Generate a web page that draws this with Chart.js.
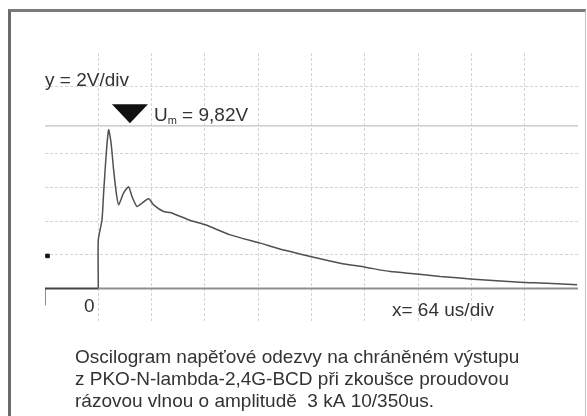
<!DOCTYPE html>
<html>
<head>
<meta charset="utf-8">
<script src="https://cdn.jsdelivr.net/npm/chart.js@4.4.1/dist/chart.umd.min.js"></script>
<style>
  html, body { margin: 0; padding: 0; background: #fff; }
  #wrap { position: relative; width: 587px; height: 416px; overflow: hidden; }
  #frame {
    position: absolute; left: 8px; top: 9px; width: 578px; height: 430px;
    box-sizing: border-box;
    border-top: 3px solid #7b7b7b; border-left: 3px solid #6b6b6b; border-right: 1px solid #c4c4c4;
    pointer-events: none;
  }
  canvas { position: absolute; left: 0; top: 0; }
</style>
</head>
<body>
<div id="wrap">
  <canvas id="osc" width="587" height="416"></canvas>
  <div id="frame"></div>
</div>
<script>
// průběh napětí (čas v us, napětí ve V), odečteno z oscilogramu
const timeUs = [0, 0, 4.4, 6.4, 9.6, 12.4, 15.3, 18.4, 21.6, 24.4, 30.4, 36.4, 40.5, 46.5, 52.5, 60.4, 66.4,
  78.4, 86.5, 110.5, 128.5, 158.5, 194.5, 214.6, 230.6, 254.6, 290.6, 320.6, 350.6, 382.7, 410.7, 450.4,
  506.7, 538.8, 575];
const voltageV = [0, 2.89, 4.05, 5.68, 8.07, 9.43, 8.66, 7.05, 5.68, 4.97, 5.68, 6.04, 5.46, 4.87, 5.07, 5.33, 4.97,
  4.57, 4.51, 4.04, 3.78, 3.18, 2.69, 2.39, 2.19, 1.89, 1.50, 1.26, 1.00, 0.86, 0.71, 0.55,
  0.37, 0.31, 0.21];

// před spouštěním
const preTriggerUs = [-64, 0];
const preTriggerV = [0, 0];
// nulová úroveň
const zeroUs = [0, 576];
const zeroV = [0, 0];
// značka spouštění vlevo
const tickUs = [-64, -64];
const tickV = [0, -1];
const dotUs = [-61];
const dotV = [1.93];
// kurzor Um
const cursorUs = [-64, 576];
const cursorLevel = 9.67;
const UM = 9.82;
const markerUs = 38;

const xStep = 64;   // us/div
const yStep = 2;    // V/div
const hiddenX = [-64, 576];
const hiddenY = [-2, 10, 14];

const caption = [
  "Oscilogram napěťové odezvy na chráněném výstupu",
  "z PKO-N-lambda-2,4G-BCD při zkoušce proudovou",
  "rázovou vlnou o amplitudě  3 kA 10/350us."
];

const FONT = "'Liberation Sans', Arial, Helvetica, sans-serif";

function pts(xs, ys) {
  return xs.map((v, i) => ({ x: v, y: ys[i] }));
}

const popisky = {
  id: "popisky",
  afterDatasetsDraw(chart) {
    const { ctx, scales } = chart;
    const x = scales.x, y = scales.y;
    ctx.save();

    // trojúhelník Um
    const ax = x.getPixelForValue(markerUs);
    const ay = y.getPixelForValue(UM);
    ctx.fillStyle = "#111";
    ctx.beginPath();
    ctx.moveTo(ax - 18, ay - 19);
    ctx.lineTo(ax + 18, ay - 19);
    ctx.lineTo(ax, ay);
    ctx.closePath();
    ctx.fill();

    ctx.fillStyle = "#333";
    ctx.textBaseline = "alphabetic";
    ctx.textAlign = "left";
    let tx = ax + 24, ty = ay - 2;
    ctx.font = "19px " + FONT;
    ctx.fillText("U", tx, ty);
    tx += ctx.measureText("U").width;
    ctx.font = "11px " + FONT;
    ctx.fillText("m", tx, ty + 3);
    tx += ctx.measureText("m").width;
    ctx.font = "19px " + FONT;
    ctx.fillText(" = " + UM.toFixed(2).replace(".", ",") + "V", tx, ty);

    ctx.fillText("y = " + yStep + "V/div", 45, 86);
    ctx.fillText("x= " + xStep + " us/div", 392, 316);
    ctx.textAlign = "center";
    ctx.fillText("0", x.getPixelForValue(0) - 9, 312);

    ctx.textAlign = "left";
    caption.forEach((line, i) => ctx.fillText(line, 75, 363 + i * 22));
    ctx.restore();
  }
};

new Chart(document.getElementById("osc"), {
  type: "scatter",
  data: {
    datasets: [
      {
        data: pts(cursorUs, [cursorLevel, cursorLevel]),
        showLine: true, borderColor: "#c2c2c2", borderWidth: 1.2, pointRadius: 0
      },
      {
        data: pts(zeroUs, zeroV),
        showLine: true, borderColor: "#8e8e8e", borderWidth: 2, pointRadius: 0
      },
      {
        data: pts(preTriggerUs, preTriggerV),
        showLine: true, borderColor: "#444", borderWidth: 2, pointRadius: 0
      },
      {
        data: pts(tickUs, tickV),
        showLine: true, borderColor: "#666", borderWidth: 1.5, pointRadius: 0
      },
      {
        data: pts(dotUs, dotV),
        pointStyle: "rect", pointRadius: 2.5, backgroundColor: "#111", borderColor: "#111"
      },
      {
        data: pts(timeUs, voltageV),
        showLine: true, borderColor: "#505050", borderWidth: 1.5, pointRadius: 0, tension: 0.2
      }
    ]
  },
  options: {
    responsive: false,
    animation: false,
    layout: { padding: { left: 45, right: 9, top: 53, bottom: 94 } },
    plugins: { legend: { display: false }, tooltip: { enabled: false } },
    scales: {
      x: {
        type: "linear", min: -64, max: 576,
        ticks: { display: false, stepSize: xStep },
        grid: {
          drawTicks: false,
          color: (c) => (c.tick && hiddenX.includes(c.tick.value)) ? "rgba(0,0,0,0)" : "#d4d4d4"
        },
        border: { display: false, dash: [3, 2] },
        afterFit: (s) => { s.height = 0; }
      },
      y: {
        type: "linear", min: -2, max: 14,
        ticks: { display: false, stepSize: yStep },
        grid: {
          drawTicks: false,
          color: (c) => (c.tick && hiddenY.includes(c.tick.value)) ? "rgba(0,0,0,0)" : "#d4d4d4"
        },
        border: { display: false, dash: [3, 2] },
        afterFit: (s) => { s.width = 0; }
      }
    }
  },
  plugins: [popisky]
});
</script>
</body>
</html>
